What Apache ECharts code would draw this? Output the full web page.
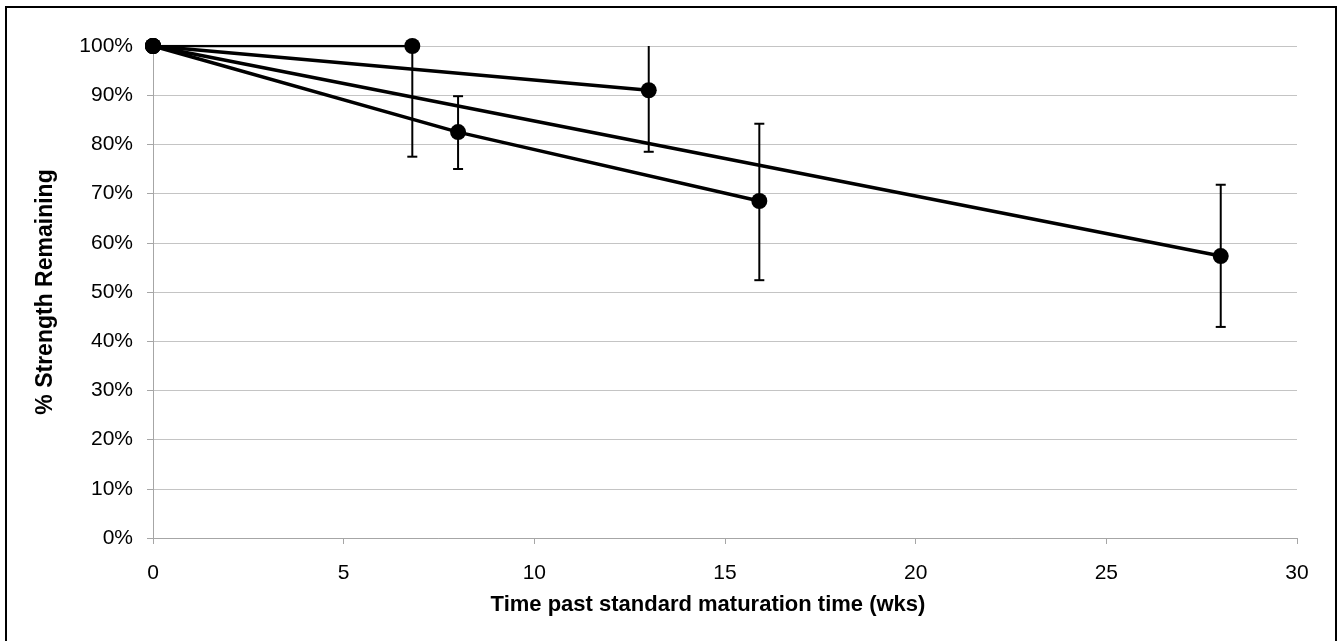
<!DOCTYPE html>
<html>
<head>
<meta charset="utf-8">
<script src="https://cdn.jsdelivr.net/npm/echarts@6/dist/echarts.min.js"></script>
<style>
  html, body { margin: 0; padding: 0; background: #fff; }
  #chart { width: 1342px; height: 641px; }
</style>
</head>
<body>
<div id="chart"></div>
<script>
// lines all start at week 0, 100%
const lineA = [[0, 100], [6.8, 100]];
const lineB = [[0, 100], [13, 91]];
const lineC = [[0, 100], [8, 82.5], [15.9, 68.5]];
const lineD = [[0, 100], [28, 57.3]];

// error bars: x, low, high (top ones run past 100% and get clipped)
const errX = [6.8, 8, 13, 15.9, 28];
const errLow = [77.5, 75, 78.5, 52.4, 42.9];
const errHigh = [101, 89.8, 101, 84.2, 71.8];

const xTicks = [0, 30, 5];   // min, max, step
const yTicks = [0, 100, 10];

const chart = echarts.init(document.getElementById('chart'));

const errData = errX.map((x, i) => [x, errLow[i], errHigh[i]]);

const mkLine = (data, w) => ({
  type: 'line',
  data: data,
  symbol: 'circle',
  symbolSize: 16,
  itemStyle: { color: '#000' },
  lineStyle: { color: '#000', width: w },
  z: 3,
  animation: false
});

const option = {
  backgroundColor: '#fff',
  textStyle: { fontFamily: 'Liberation Sans, Arial, sans-serif' },
  graphic: [{
    type: 'rect',
    shape: { x: 6, y: 7, width: 1330, height: 650 },
    style: { fill: 'none', stroke: '#000', lineWidth: 2 },
    z: 0
  }],
  grid: { left: 153, right: 45, top: 46, bottom: 103 },
  xAxis: {
    type: 'value',
    min: xTicks[0], max: xTicks[1], interval: xTicks[2],
    name: 'Time past standard maturation time (wks)',
    nameLocation: 'middle',
    nameGap: 56,
    nameTextStyle: { fontSize: 22, fontWeight: 'bold', color: '#000', padding: [0, 34, 0, 0] },
    axisLine: { show: true, lineStyle: { color: '#a6a6a6', width: 1 } },
    axisTick: { show: true, length: 6, lineStyle: { color: '#a6a6a6' } },
    axisLabel: { fontSize: 21, color: '#000', margin: 25 },
    splitLine: { show: false }
  },
  yAxis: {
    type: 'value',
    min: yTicks[0], max: yTicks[1], interval: yTicks[2],
    name: '% Strength Remaining',
    nameLocation: 'middle',
    nameGap: 96,
    nameTextStyle: { fontSize: 23, fontWeight: 'bold', color: '#000' },
    axisLine: { show: true, lineStyle: { color: '#a6a6a6', width: 1 } },
    axisTick: { show: true, length: 6, lineStyle: { color: '#a6a6a6' } },
    axisLabel: { fontSize: 21, color: '#000', margin: 20, formatter: '{value}%' },
    splitLine: { show: true, lineStyle: { color: '#c4c4c4', width: 1 } }
  },
  series: [
    {
      type: 'custom',
      data: errData,
      clip: true,
      z: 2,
      animation: false,
      renderItem: (params, api) => {
        const x = api.value(0);
        const lo = api.coord([x, api.value(1)]);
        const hi = api.coord([x, api.value(2)]);
        const cap = 5;
        const st = { stroke: '#000', lineWidth: 2 };
        return {
          type: 'group',
          children: [
            { type: 'line', shape: { x1: lo[0], y1: lo[1], x2: hi[0], y2: hi[1] }, style: st },
            { type: 'line', shape: { x1: lo[0] - cap, y1: lo[1], x2: lo[0] + cap, y2: lo[1] }, style: st },
            { type: 'line', shape: { x1: hi[0] - cap, y1: hi[1], x2: hi[0] + cap, y2: hi[1] }, style: st }
          ]
        };
      }
    },
    mkLine(lineA, 2.5),
    mkLine(lineB, 3.5),
    mkLine(lineC, 3.5),
    mkLine(lineD, 3.5)
  ]
};

chart.setOption(option);
</script>
</body>
</html>
